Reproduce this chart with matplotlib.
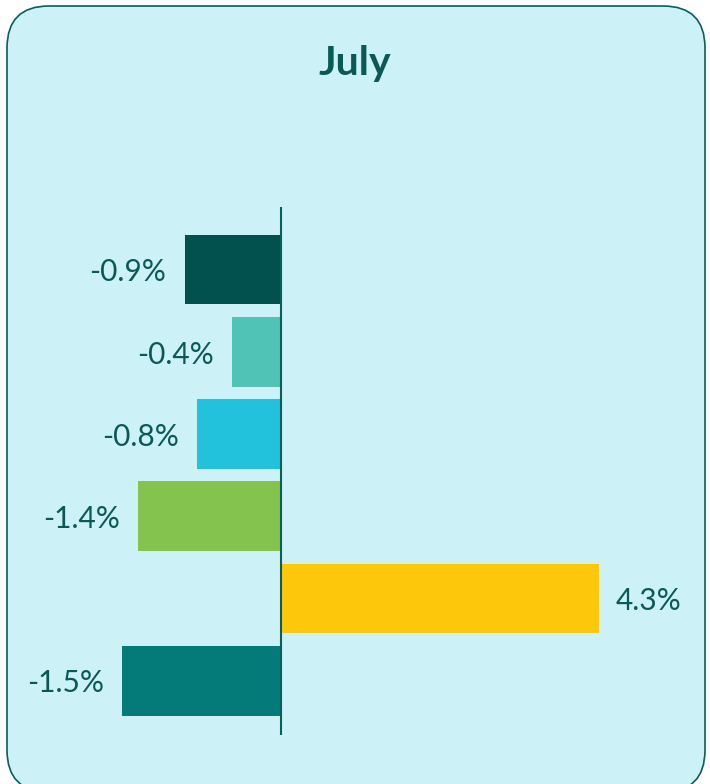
import matplotlib.pyplot as plt
from matplotlib.patches import FancyBboxPatch
from matplotlib.transforms import IdentityTransform

# Data (bar lengths; labels are the printed, rounded values)
values = [-0.91, -0.46, -0.79, -1.35, 4.3, -1.5]
labels = ["-0.9%", "-0.4%", "-0.8%", "-1.4%", "4.3%", "-1.5%"]
colors = ["#02514F", "#50C2B6", "#22C2DC", "#84C44E", "#FDC70C", "#047B78"]
title = "July"

text_color = "#0B5957"
plt.rcParams['font.family'] = ['Lato', 'DejaVu Sans']

fig = plt.figure(figsize=(7.1, 7.84), dpi=100, facecolor="white")

# rounded card behind everything (pixel coords, bottom edge just below the image)
card = FancyBboxPatch((7, -8), 698, 786,
                      boxstyle="round,pad=0,rounding_size=42",
                      transform=IdentityTransform(),
                      facecolor="#CCF1F6", edgecolor="#0B5E5C", linewidth=1.2,
                      zorder=-10)
fig.patches.append(card)

ax = fig.add_axes([0.1718, 0.0625, 0.6718, 0.6735])
ax.set_zorder(1)
ax.set_facecolor("none")
xmin, xmax = -1.5, 3.0
ax.set_xlim(xmin, xmax)
ax.set_ylim(5.66, -0.76)

ax.barh(range(len(values)), values, height=0.85, color=colors, zorder=2)
ax.axvline(0, color="#0B5E5C", linewidth=1.5, zorder=3)

for i, (v, lab) in enumerate(zip(values, labels)):
    if v < 0:
        ax.annotate(lab, (v, i), xytext=(-13, -2), textcoords="offset points",
                    ha="right", va="center", fontsize=21.5, color=text_color,
                    annotation_clip=False)
    else:
        ax.annotate(lab, (min(v, xmax), i), xytext=(12, -2), textcoords="offset points",
                    ha="left", va="center", fontsize=21.5, color=text_color,
                    annotation_clip=False)

for s in ax.spines.values():
    s.set_visible(False)
ax.set_xticks([])
ax.set_yticks([])

fig.text(0.5, 1 - 63 / 784, title, ha="center", va="center",
         fontsize=29.5, fontweight="bold", color=text_color, zorder=5)

fig.savefig("out.png", dpi=100, facecolor="white")
